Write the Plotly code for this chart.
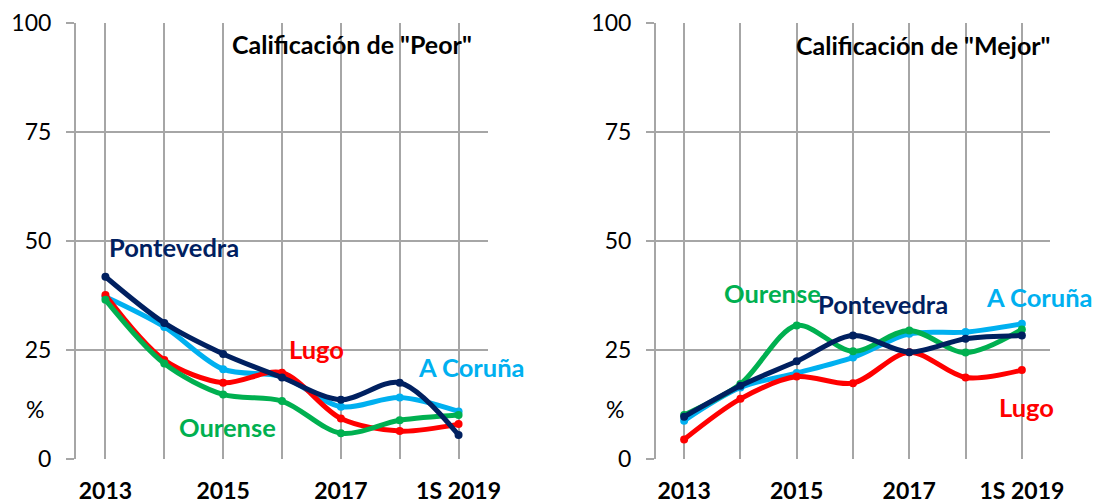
import plotly.graph_objects as go

years = ["2013", "2014", "2015", "2016", "2017", "2018", "1S 2019"]
tick_text = ["2013", "", "2015", "", "2017", "", "1S 2019"]

# Calificación de "Peor" (%)
peor_coruna = [37.2, 30.3, 20.6, 18.9, 12.0, 14.1, 10.9]
peor_lugo = [37.6, 22.7, 17.5, 19.8, 9.3, 6.4, 8.0]
peor_ourense = [36.5, 21.9, 14.8, 13.3, 5.9, 8.9, 10.1]
peor_pontevedra = [41.8, 31.2, 24.1, 18.7, 13.6, 17.5, 5.5]

# Calificación de "Mejor" (%)
mejor_coruna = [8.8, 16.4, 19.7, 23.3, 28.7, 29.1, 31.0]
mejor_lugo = [4.5, 13.8, 18.9, 17.4, 24.5, 18.7, 20.4]
mejor_ourense = [10.1, 17.2, 30.6, 24.7, 29.5, 24.4, 29.7]
mejor_pontevedra = [9.7, 16.8, 22.4, 28.3, 24.5, 27.6, 28.3]

C_CORUNA = "#00B0F0"
C_LUGO = "#FF0000"
C_OURENSE = "#00B050"
C_PONTE = "#002060"
GRID = "#A6A6A6"
FONT = "Lato"

# page body has an 8px default margin
OFF = 8
W, H = 1107 - OFF, 504 - OFF

def fx(px):
    return (px - OFF) / W

def fy(py):
    return (504 - py) / H

fig = go.Figure()

def add_series(vals, color, xa, ya):
    fig.add_trace(go.Scatter(
        x=years, y=vals, mode="lines+markers",
        line=dict(color=color, width=5, shape="spline", smoothing=0.9),
        marker=dict(color=color, size=8),
        xaxis=xa, yaxis=ya, showlegend=False, cliponaxis=False,
    ))

for vals, col in [(peor_coruna, C_CORUNA), (peor_lugo, C_LUGO),
                  (peor_ourense, C_OURENSE), (peor_pontevedra, C_PONTE)]:
    add_series(vals, col, "x", "y")
for vals, col in [(mejor_coruna, C_CORUNA), (mejor_lugo, C_LUGO),
                  (mejor_ourense, C_OURENSE), (mejor_pontevedra, C_PONTE)]:
    add_series(vals, col, "x2", "y2")

def xaxis(domain, anchor):
    return dict(
        domain=domain, anchor=anchor, type="category",
        categoryorder="array", categoryarray=years,
        range=[-0.5, 6.5], tickvals=years, ticktext=tick_text,
        showgrid=True, gridcolor=GRID, gridwidth=2,
        showline=False, zeroline=False, automargin=False,
        ticks="outside", ticklen=11, tickcolor="rgba(0,0,0,0)",
        tickfont=dict(family=FONT, size=23, color="#000000", weight="bold"),
        fixedrange=True,
    )

def yaxis(domain, anchor):
    return dict(
        domain=domain, anchor=anchor, range=[0, 100],
        tickvals=[0, 25, 50, 75, 100],
        showgrid=True, gridcolor=GRID, gridwidth=2,
        showline=True, linecolor=GRID, linewidth=2,
        zeroline=False, automargin=False,
        ticks="outside", ticklen=8, tickcolor=GRID, tickwidth=2,
        ticklabelstandoff=10,
        tickfont=dict(family=FONT, size=23, color="#000000"),
        fixedrange=True,
    )

ydom = [fy(459), fy(23)]
fig.update_layout(
    template="none",
    width=W, height=H,
    margin=dict(l=0, r=0, t=0, b=0, autoexpand=False),
    paper_bgcolor="white", plot_bgcolor="white",
    xaxis=xaxis([fx(76), fx(488)], "y"),
    yaxis=yaxis(ydom, "x"),
    xaxis2=xaxis([fx(656), fx(1050)], "y2"),
    yaxis2=yaxis(ydom, "x2"),
)

def label(text, x, y, color, xref, yref, anchor="left", size=25.5):
    fig.add_annotation(
        text=text, x=x, y=y, xref=xref, yref=yref,
        xanchor=anchor, yanchor="middle", showarrow=False,
        font=dict(family=FONT, size=size, color=color, weight="bold"),
    )

# Panel titles
label('Calificación de "Peor"', fx(474), 95.2, "#000000", "paper", "y", anchor="right", size=25)
label('Calificación de "Mejor"', fx(1053), 94.9, "#000000", "paper", "y2", anchor="right", size=25)

# Left panel series labels
label("Pontevedra", 0.03, 48.6, C_PONTE, "x", "y")
label("Lugo", 3.08, 25.2, C_LUGO, "x", "y")
label("A Coruña", 5.27, 21.1, C_CORUNA, "x", "y")
label("Ourense", 1.22, 7.3, C_OURENSE, "x", "y")

# Right panel series labels
label("Ourense", 0.67, 38.0, C_OURENSE, "x2", "y2")
label("Pontevedra", 2.35, 35.5, C_PONTE, "x2", "y2")
label("A Coruña", 5.32, 37.1, C_CORUNA, "x2", "y2")
label("Lugo", 5.55, 12.0, C_LUGO, "x2", "y2")

# "%" axis labels
for yref, xp in [("y", fx(46)), ("y2", fx(626))]:
    fig.add_annotation(
        text="%", x=xp, y=11.5, xref="paper", yref=yref,
        xanchor="right", yanchor="middle", showarrow=False,
        font=dict(family=FONT, size=23, color="#000000"),
    )

fig.write_html("out.html")
